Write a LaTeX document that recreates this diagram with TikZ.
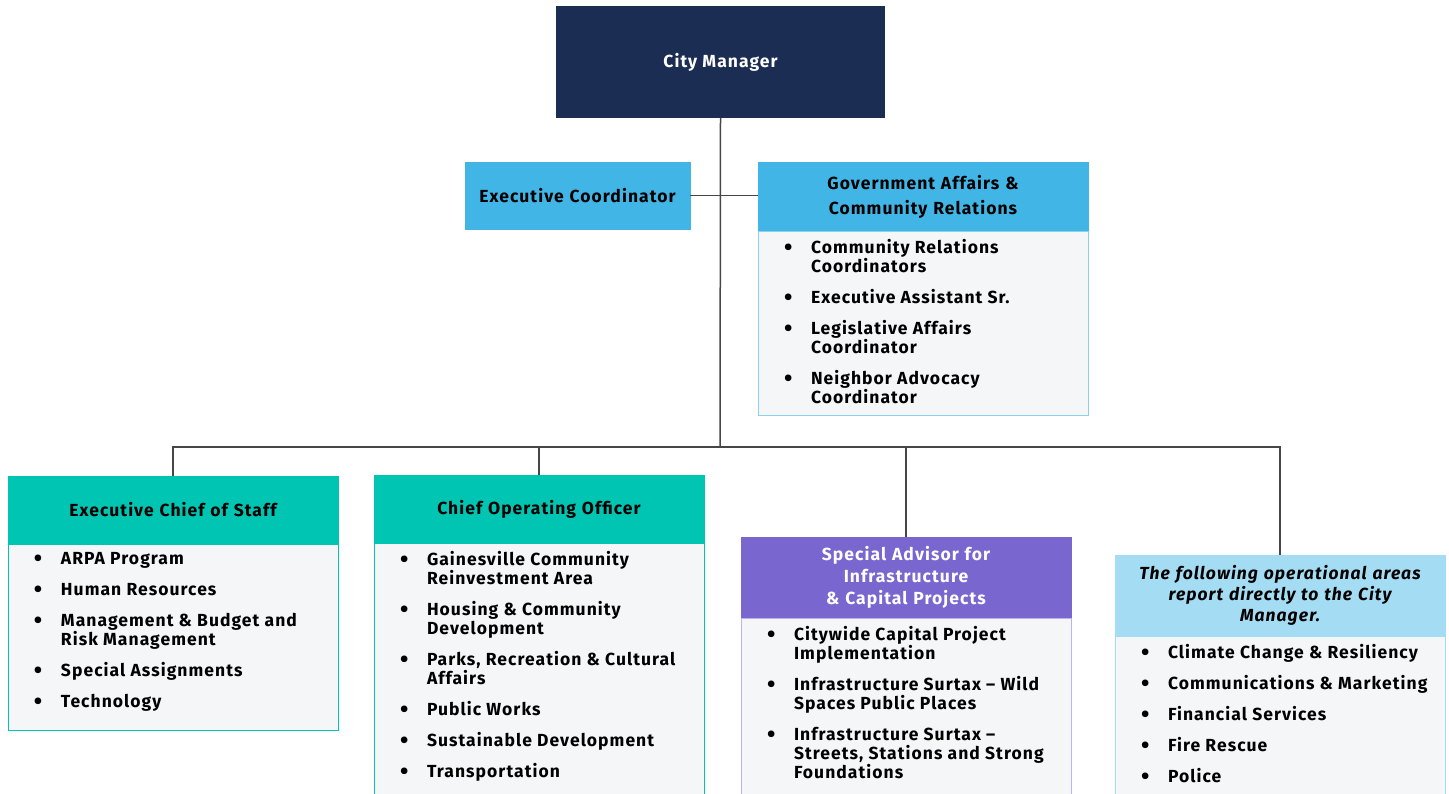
\documentclass[tikz,border=0pt]{standalone}
\usepackage{fontspec}
\setmainfont{Fira Sans}[LetterSpace=6]
\usepackage{xcolor}
\usetikzlibrary{positioning}

\definecolor{navy}{RGB}{27,45,82}
\definecolor{midblue}{RGB}{65,182,230}
\definecolor{teal}{RGB}{0,197,179}
\definecolor{violet}{RGB}{122,102,207}
\definecolor{skyblue}{RGB}{164,220,243}
\definecolor{bodygray}{RGB}{245,246,248}
\definecolor{linegray}{RGB}{70,70,70}
\definecolor{paleblue}{RGB}{140,208,238}
\definecolor{paleviolet}{RGB}{190,178,238}

\newcommand{\itemlist}[2]{\parbox[t][#1][t]{278pt}{\raggedright\setlength{\parskip}{12pt}#2}}
\newcommand{\itm}[1]{\par\noindent\hangindent=27pt\hangafter=1\makebox[27pt][l]{\raisebox{-2.5pt}{\fontsize{24}{19}\selectfont\textbullet}}#1}

\tikzset{
	Boss/.style={fill=navy, text=white, minimum width=329pt, minimum height=112pt,
		font=\bfseries\fontsize{17.5}{20}\selectfont},
	Head/.style={fill=#1, draw=#1, minimum width=330pt, text width=310pt, inner xsep=10pt,
		align=center, outer sep=0pt, font=\bfseries\fontsize{17.5}{22}\selectfont},
	Body/.style={fill=bodygray, draw=#1, inner xsep=26pt, inner ysep=8pt, outer sep=0pt,
		font=\bfseries\fontsize{17.5}{19}\selectfont},
	Link/.style={draw=linegray, line width=1.5pt}
}

\begin{document}
\begin{tikzpicture}[x=1pt, y=-1pt]
	\useasboundingbox (0,0) rectangle (1449,793);

	\node[Boss] (cm) at (720.5,62) {City Manager};
	\node[Head=midblue, minimum width=225pt, text width=219pt, inner xsep=3pt, minimum height=67pt] (ec) at (577.5,195.5) {Executive Coordinator};
	\node[Head=midblue, minimum height=69pt, font=\bfseries\fontsize{17.5}{25}\selectfont] (gah) at (923,196.5) {Government Affairs \&\\Community Relations};
	\node[Body=paleblue, below=0pt of gah] (gal) {\itemlist{168pt}{%
		\itm{Community Relations\newline Coordinators}
		\itm{Executive Assistant Sr.}
		\itm{Legislative Affairs\newline Coordinator}
		\itm{Neighbor Advocacy\newline Coordinator}}};

	\coordinate (bus) at (720,447);

	\node[Head=teal, minimum height=68pt] (ecsh) at (173,510) {Executive Chief of Staff};
	\node[Body=teal, below=0pt of ecsh] (ecsl) {\itemlist{170pt}{%
		\itm{ARPA Program}
		\itm{Human Resources}
		\itm{Management \& Budget and\newline Risk Management}
		\itm{Special Assignments}
		\itm{Technology}}};

	\node[Head=teal, minimum height=68pt] (cooh) at (539,509) {Chief Operating Officer};
	\node[Body=teal, below=0pt of cooh] (cool) {\itemlist{254pt}{%
		\itm{Gainesville Community\newline Reinvestment Area}
		\itm{Housing \& Community\newline Development}
		\itm{Parks, Recreation \& Cultural\newline Affairs}
		\itm{Public Works}
		\itm{Sustainable Development}
		\itm{Transportation}}};

	\node[Head=violet, text=white, minimum height=81pt] (sah) at (906,577.5) {Special Advisor for\\Infrastructure\\\& Capital Projects};
	\node[Body=paleviolet, below=0pt of sah] (sal) {\itemlist{174pt}{%
		\itm{Citywide Capital Project\newline Implementation}
		\itm{Infrastructure Surtax – Wild\newline Spaces Public Places}
		\itm{Infrastructure Surtax –\newline Streets, Stations and Strong\newline Foundations}}};

	\node[Head=skyblue, minimum height=81pt, font=\bfseries\itshape\fontsize{17.5}{21}\selectfont] (oph) at (1280,595.5) {The following operational areas\\report directly to the City\\Manager.};
	\node[Body=skyblue, below=0pt of oph] (opl) {\itemlist{159pt}{%
		\itm{Climate Change \& Resiliency}
		\itm{\mbox{Communications \& Marketing}}
		\itm{Financial Services}
		\itm{Fire Rescue}
		\itm{Police}}};

	\draw[Link] (cm.south) -- (bus);
	\draw[Link] (ec.east) -- (ec.east -| gah.west);
	\draw[Link] (bus) -| (ecsh.north);
	\draw[Link] (bus) -| (cooh.north);
	\draw[Link] (bus) -| (sah.north);
	\draw[Link] (bus) -| (oph.north);
\end{tikzpicture}
\end{document}
